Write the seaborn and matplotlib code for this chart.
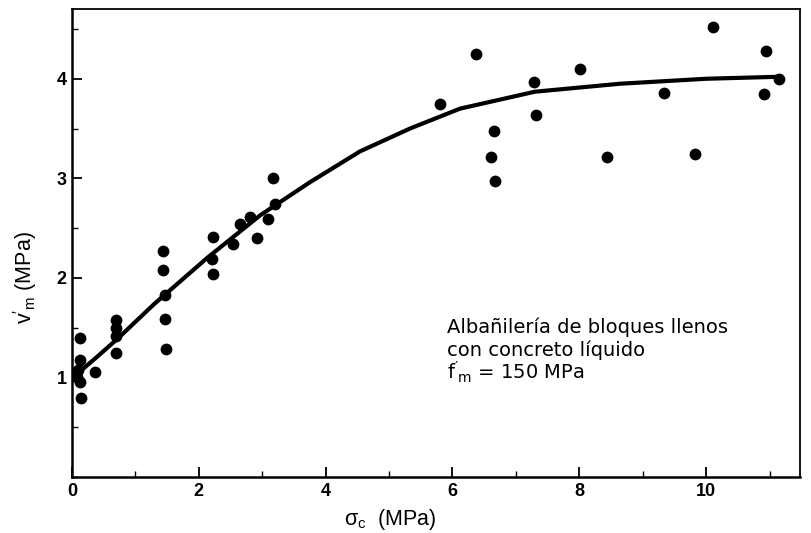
import matplotlib
matplotlib.use("Agg")
import matplotlib.pyplot as plt
import seaborn as sns
import pandas as pd
from matplotlib.ticker import MultipleLocator

# Data points (sigma_c, v'm) in MPa
sigma_c = [0.13, 0.13, 0.10, 0.08, 0.13, 0.14, 0.36,
           0.70, 0.70, 0.70, 0.70,
           1.44, 1.44, 1.47, 1.47, 1.48,
           2.22, 2.20, 2.22, 2.54, 2.65, 2.80, 2.92, 3.09, 3.17, 3.20,
           5.80, 6.37, 6.66, 6.61, 6.67, 7.29, 7.32, 8.01, 8.44, 9.34,
           9.83, 10.11, 10.95, 10.92, 11.15]
v_m = [1.40, 1.18, 1.08, 1.00, 0.95, 0.79, 1.05,
       1.58, 1.50, 1.42, 1.25,
       2.27, 2.08, 1.83, 1.59, 1.29,
       2.41, 2.19, 2.04, 2.34, 2.54, 2.61, 2.40, 2.59, 3.00, 2.74,
       3.75, 4.25, 3.48, 3.21, 2.97, 3.97, 3.64, 4.10, 3.21, 3.86,
       3.24, 4.52, 4.28, 3.85, 4.00]

# Fitted curve
curve_x = [0.03, 0.18, 0.40, 0.72, 1.30, 2.13, 2.97, 3.75, 4.54, 5.33,
           6.12, 7.30, 8.64, 10.0, 11.15]
curve_y = [1.00, 1.09, 1.21, 1.39, 1.74, 2.20, 2.63, 2.96, 3.27, 3.50,
           3.70, 3.87, 3.95, 4.00, 4.02]

x_ticks = [0, 2, 4, 6, 8, 10]
y_ticks = [1, 2, 3, 4]
note_lines = ["Albañilería de bloques llenos", "con concreto líquido",
              r"$\mathsf{f'_m}$ = 150 MPa"]

sns.set_style("ticks")
plt.rcParams['font.family'] = ['Liberation Sans', 'DejaVu Sans']
plt.rcParams['mathtext.fontset'] = 'custom'
plt.rcParams['mathtext.rm'] = 'Liberation Sans'
plt.rcParams['mathtext.it'] = 'Liberation Sans'
plt.rcParams['mathtext.sf'] = 'DejaVu Sans'
plt.rcParams['mathtext.default'] = 'regular'
plt.rcParams['text.color'] = 'black'
plt.rcParams['axes.labelcolor'] = 'black'
plt.rcParams['xtick.color'] = 'black'
plt.rcParams['ytick.color'] = 'black'

fig = plt.figure(figsize=(8.11, 5.33), dpi=100)
ax = fig.add_axes([0.0888, 0.105, 0.8976, 0.878])

pts = pd.DataFrame({"sigma": sigma_c, "v": v_m})
crv = pd.DataFrame({"x": curve_x, "y": curve_y})

sns.lineplot(data=crv, x="x", y="y", ax=ax, color="black", linewidth=3.0,
             solid_capstyle="round", solid_joinstyle="round")
sns.scatterplot(data=pts, x="sigma", y="v", ax=ax, color="black", s=72,
                edgecolor="black", linewidth=0, zorder=3)

ax.set_xlim(0, 11.48)
ax.set_ylim(0, 4.7)
ax.set_xticks(x_ticks)
ax.set_yticks(y_ticks)
ax.xaxis.set_minor_locator(MultipleLocator(1))
ax.yaxis.set_minor_locator(MultipleLocator(0.5))
ax.tick_params(which='major', direction='in', length=7, width=1.3,
               labelsize=13, pad=4, colors='black')
ax.tick_params(which='minor', direction='in', length=4, width=1.0)
for lab in ax.get_xticklabels() + ax.get_yticklabels():
    lab.set_fontweight('bold')

for side in ['left', 'bottom']:
    ax.spines[side].set_linewidth(1.8)
    ax.spines[side].set_color('black')
for side in ['right', 'top']:
    ax.spines[side].set_linewidth(1.3)
    ax.spines[side].set_color('black')
    ax.spines[side].set_visible(True)

ax.set_xlabel(r"$\sigma_c$  (MPa)", fontsize=15.5, color='black')
ax.set_ylabel(r"$v'_m$ (MPa)", fontsize=15.5, color='black')
ax.xaxis.set_label_coords(0.437, -0.064)
ax.yaxis.set_label_coords(-0.046, 0.427)

for yv, line in zip([1.45, 1.215, 0.975], note_lines):
    ax.text(5.92, yv, line, fontsize=14, va='baseline', ha='left',
            family='DejaVu Sans', color='black')

fig.savefig("out.png", dpi=100)
